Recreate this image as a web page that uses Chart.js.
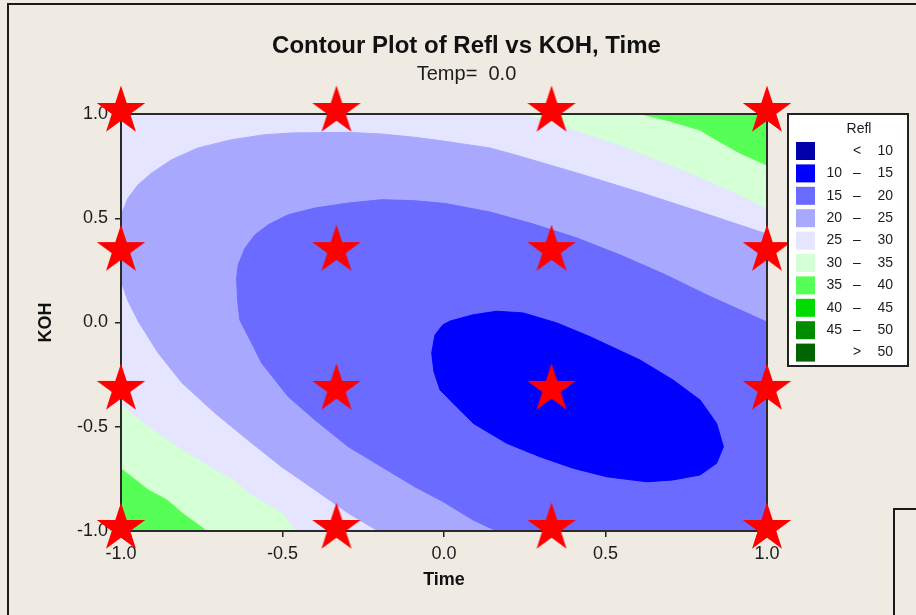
<!DOCTYPE html>
<html>
<head>
<meta charset="utf-8">
<script src="https://cdn.jsdelivr.net/npm/chart.js@4.4.1/dist/chart.umd.min.js"></script>
<style>
html,body{margin:0;padding:0;background:#EFEBE2;}
canvas{display:block;}
</style>
</head>
<body>
<canvas id="c" width="916" height="615" style="width:916px;height:615px"></canvas>
<script>
// ---------------- data ----------------
const chartTitle = 'Contour Plot of Refl vs KOH, Time';
const chartSubtitle = 'Temp=  0.0';
const xAxisTitle = 'Time';
const yAxisTitle = 'KOH';
const xTickValues = [-1.0, -0.5, 0.0, 0.5, 1.0];
const yTickValues = [-1.0, -0.5, 0.0, 0.5, 1.0];

// design points (red stars)
const designTime = [-1, -0.333, 0.333, 1, -1, -0.333, 0.333, 1, -1, -0.333, 0.333, 1, -1, -0.333, 0.333, 1];
const designKOH  = [1, 1, 1, 1, 0.333, 0.333, 0.333, 0.333, -0.333, -0.333, -0.333, -0.333, -1, -1, -1, -1];

// contour line Refl = 15 (closed ellipse, 10-15 region inside)
const contour15 = [[-0.038,-0.146],[-0.028,-0.060],[-0.004,-0.012],[0.019,0.007],[0.090,0.037],[0.163,0.054],
  [0.245,0.046],[0.297,0.022],[0.349,-0.002],[0.452,-0.068],[0.607,-0.180],[0.709,-0.276],[0.793,-0.372],
  [0.844,-0.484],[0.865,-0.596],[0.844,-0.675],[0.793,-0.731],[0.709,-0.755],[0.628,-0.764],[0.504,-0.740],
  [0.400,-0.699],[0.297,-0.644],[0.194,-0.579],[0.091,-0.484],[0.039,-0.404],[-0.012,-0.324],[-0.031,-0.237]];

// contour line Refl = 20 (right edge -> over the top -> bottom edge)
const contour20 = [[1.0,0.002],[0.814,0.132],[0.680,0.233],[0.545,0.324],[0.412,0.405],[0.277,0.472],[0.142,0.530],
  [0.003,0.571],[-0.090,0.584],[-0.193,0.589],[-0.296,0.573],[-0.399,0.549],[-0.482,0.517],[-0.544,0.469],
  [-0.585,0.421],[-0.616,0.357],[-0.637,0.277],[-0.642,0.213],[-0.639,0.108],[-0.632,0.012],[-0.595,-0.100],
  [-0.564,-0.196],[-0.523,-0.276],[-0.482,-0.356],[-0.399,-0.468],[-0.296,-0.596],[-0.193,-0.692],
  [-0.090,-0.788],[-0.003,-0.859],[0.090,-0.947],[0.163,-1.0]];

// contour line Refl = 25, upper branch (left edge -> right edge)
const contour25Upper = [[-1.0,0.516],[-0.978,0.597],[-0.947,0.661],[-0.905,0.717],[-0.843,0.781],[-0.762,0.837],
  [-0.657,0.877],[-0.554,0.901],[-0.472,0.909],[-0.297,0.912],[-0.193,0.904],[-0.090,0.888],[0.003,0.869],
  [0.142,0.837],[0.211,0.808],[0.412,0.717],[0.613,0.621],[0.814,0.520],[1.0,0.424]];
// contour line Refl = 25, lower-left branch (left edge -> bottom edge)
const contour25Lower = [[-1.0,0.199],[-0.978,0.103],[-0.947,0.007],[-0.885,-0.146],[-0.811,-0.290],[-0.709,-0.434],
  [-0.607,-0.564],[-0.502,-0.693],[-0.399,-0.803],[-0.297,-0.914],[-0.204,-1.0]];

// contour line Refl = 30
const contour30TopRight = [[0.251,1.0],[0.399,0.928],[0.554,0.847],[0.709,0.751],[0.864,0.650],[1.0,0.549]];
const contour30BottomLeft = [[-1.0,-0.396],[-0.916,-0.501],[-0.811,-0.612],[-0.709,-0.707],[-0.652,-0.755],
  [-0.607,-0.818],[-0.502,-0.914],[-0.459,-1.0]];

// contour line Refl = 35
const contour35TopRight = [[0.610,1.0],[0.700,0.966],[0.793,0.923],[0.845,0.875],[0.916,0.813],[1.0,0.755]];
const contour35BottomLeft = [[-1.0,-0.701],[-0.916,-0.803],[-0.858,-0.851],[-0.811,-0.914],[-0.735,-1.0]];

// legend
const legendTitle = 'Refl';
const legendLow  = ['', '10', '15', '20', '25', '30', '35', '40', '45', ''];
const legendSep  = ['<', '\u2013', '\u2013', '\u2013', '\u2013', '\u2013', '\u2013', '\u2013', '\u2013', '>'];
const legendHigh = ['10', '15', '20', '25', '30', '35', '40', '45', '50', '50'];
const levelColors = ['#0000AA', '#0000FF', '#6B6BFF', '#A8A8FF', '#E5E5FF', '#D5FFD5', '#55FF55', '#00DC00', '#008C00', '#006400'];

// ---------------- build ----------------
const FONT = '"Liberation Sans", Arial, sans-serif';
const toPts = arr => arr.map(p => ({x: p[0], y: p[1]}));
const closeRing = arr => arr.concat([arr[0]]);

const poly25 = closeRing(contour25Upper.concat([[1, -1]], contour25Lower.slice().reverse()));
const poly20 = closeRing(contour20.concat([[1, -1]]));
const poly15 = closeRing(contour15);
const poly30TR = closeRing(contour30TopRight.concat([[1, 1]]));
const poly30BL = closeRing(contour30BottomLeft.concat([[-1, -1]]));
const poly35TR = closeRing(contour35TopRight.concat([[1, 1]]));
const poly35BL = closeRing(contour35BottomLeft.concat([[-1, -1]]));

function region(label, poly, color, order) {
  return {
    type: 'line', label, data: toPts(poly), order,
    fill: 'shape', backgroundColor: color, borderColor: color, borderWidth: 1,
    pointRadius: 0, tension: 0
  };
}

function makeStar() {
  const c = document.createElement('canvas');
  c.width = 54; c.height = 60;
  const g = c.getContext('2d');
  const cx = 27, cy = 27, R = 25.5, r = R * 0.382;
  g.fillStyle = '#FF0000';
  g.beginPath();
  for (let k = 0; k < 10; k++) {
    const a = -Math.PI / 2 + k * Math.PI / 5;
    const rr = (k % 2) ? r : R;
    g.lineTo(cx + rr * Math.cos(a), cy + rr * Math.sin(a));
  }
  g.closePath();
  g.fill();
  return c;
}

const datasets = [
  {
    type: 'scatter', label: 'design', order: 0, clip: false,
    data: designTime.map((t, i) => ({x: t, y: designKOH[i]})),
    pointStyle: makeStar(), pointRadius: 12, showLine: false
  },
  region('Refl >= 35 (lower left)', poly35BL, levelColors[6], 4),
  region('Refl >= 35 (upper right)', poly35TR, levelColors[6], 5),
  region('Refl >= 30 (lower left)', poly30BL, levelColors[5], 6),
  region('Refl >= 30 (upper right)', poly30TR, levelColors[5], 7),
  region('Refl < 15', poly15, levelColors[1], 8),
  region('Refl < 20', poly20, levelColors[2], 9),
  region('Refl < 25', poly25, levelColors[3], 10)
];

const decor = {
  id: 'decor',
  beforeDraw(chart) {
    const ctx = chart.ctx;
    ctx.save();
    ctx.fillStyle = '#EFEBE2';
    ctx.fillRect(0, 0, chart.width, chart.height);
    ctx.restore();
  },
  beforeDatasetsDraw(chart) {
    const {ctx, chartArea: a} = chart;
    ctx.save();
    ctx.fillStyle = levelColors[4];
    ctx.fillRect(a.left, a.top, a.right - a.left, a.bottom - a.top);
    ctx.restore();
  },
  beforeDatasetDraw(chart, args) {
    if (chart.data.datasets[args.index].label !== 'design') return;
    const {ctx, chartArea: a} = chart;
    ctx.save();
    ctx.strokeStyle = '#2a2a2a';
    ctx.lineWidth = 2;
    ctx.strokeRect(a.left, a.top, a.right - a.left, a.bottom - a.top);
    ctx.restore();
  },
  afterDraw(chart) {
    const {ctx, chartArea: a} = chart;
    ctx.save();
    // legend box
    const x0 = a.right + 21, y0 = a.top, w = 120, h = 252;
    ctx.fillStyle = '#FFFFFF';
    ctx.fillRect(x0, y0, w, h);
    ctx.strokeStyle = '#222';
    ctx.lineWidth = 2;
    ctx.strokeRect(x0, y0, w, h);
    ctx.fillStyle = '#1c1c1c';
    ctx.textBaseline = 'middle';
    ctx.font = '14px ' + FONT;
    ctx.textAlign = 'center';
    ctx.fillText(legendTitle, x0 + 71, y0 + 15);
    for (let i = 0; i < levelColors.length; i++) {
      const cy = y0 + 37 + i * 22.4;
      ctx.fillStyle = levelColors[i];
      ctx.fillRect(x0 + 8, cy - 9, 19, 18);
      ctx.fillStyle = '#1c1c1c';
      ctx.textAlign = 'right';
      if (legendLow[i]) ctx.fillText(legendLow[i], x0 + 54, cy);
      ctx.fillText(legendHigh[i], x0 + 105, cy);
      ctx.textAlign = 'center';
      ctx.fillText(legendSep[i], x0 + 69, cy);
    }
    // window frame lines
    ctx.strokeStyle = '#1a1a1a';
    ctx.lineWidth = 2;
    ctx.beginPath();
    ctx.moveTo(8, chart.height + 2);
    ctx.lineTo(8, 4);
    ctx.lineTo(chart.width + 2, 4);
    ctx.stroke();
    ctx.beginPath();
    ctx.moveTo(894, chart.height + 2);
    ctx.lineTo(894, 509);
    ctx.lineTo(chart.width + 2, 509);
    ctx.stroke();
    ctx.restore();
  }
};

new Chart(document.getElementById('c'), {
  type: 'scatter',
  data: {datasets},
  plugins: [decor],
  options: {
    responsive: false,
    devicePixelRatio: 1,
    animation: false,
    events: [],
    layout: {padding: {left: 17, right: 0, top: 0, bottom: 0}},
    plugins: {
      legend: {display: false},
      tooltip: {enabled: false},
      title: {
        display: true, text: chartTitle, color: '#111',
        font: {family: FONT, size: 24, weight: 'bold', lineHeight: 1.2},
        padding: {top: 31.6, bottom: 1.6}
      },
      subtitle: {
        display: true, text: chartSubtitle, color: '#1c1c1c',
        font: {family: FONT, size: 20, weight: 'normal', lineHeight: 1.2},
        padding: {top: 0, bottom: 28}
      }
    },
    scales: {
      x: {
        type: 'linear', position: 'bottom', min: -1, max: 1,
        afterBuildTicks: s => { s.ticks = xTickValues.map(v => ({value: v})); },
        afterFit: s => { s.height = 84; },
        ticks: {color: '#1c1c1c', font: {family: FONT, size: 18}, padding: 6, autoSkip: false, maxRotation: 0,
          callback: v => Number(v).toFixed(1)},
        grid: {drawOnChartArea: false, drawTicks: true, tickLength: 6, color: '#222', lineWidth: 1.5},
        border: {display: false},
        title: {display: true, text: xAxisTitle, color: '#111',
          font: {family: FONT, size: 18, weight: 'bold', lineHeight: 1.2}, padding: {top: 0, bottom: 24.2}}
      },
      y: {
        type: 'linear', position: 'left', min: -1, max: 1,
        afterBuildTicks: s => { s.ticks = yTickValues.map(v => ({value: v})); },
        afterFit: s => { s.width = 104; },
        ticks: {color: '#1c1c1c', font: {family: FONT, size: 18}, padding: 7, autoSkip: false,
          callback: v => Number(v).toFixed(1)},
        grid: {drawOnChartArea: false, drawTicks: true, tickLength: 6, color: '#222', lineWidth: 1.5},
        border: {display: false},
        title: {display: true, text: yAxisTitle, color: '#111',
          font: {family: FONT, size: 18, weight: 'bold', lineHeight: 1.2}, padding: {top: 18.2, bottom: 0}}
      },
      spacer: {
        type: 'linear', position: 'right', display: true,
        ticks: {display: false}, grid: {display: false}, border: {display: false},
        afterFit: s => { s.width = 149; }
      }
    }
  }
});
</script>
</body>
</html>
